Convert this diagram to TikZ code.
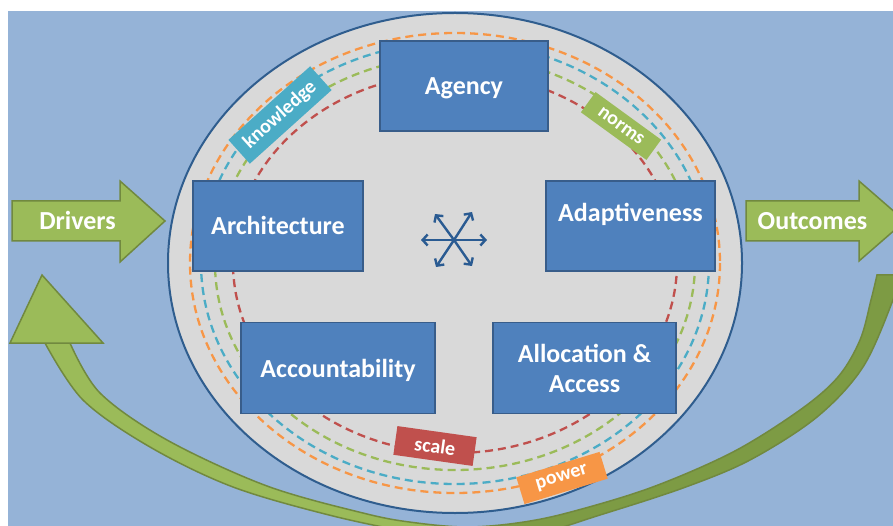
\documentclass[tikz,border=0pt]{standalone}
\usepackage{fontspec}
\setmainfont{Carlito}
\usetikzlibrary{arrows.meta}
\definecolor{bgblue}{HTML}{95B3D7}
\definecolor{ellgray}{HTML}{D9D9D9}
\definecolor{ellblue}{HTML}{2F5D8E}
\definecolor{boxblue}{HTML}{4F81BD}
\definecolor{boxline}{HTML}{385D8A}
\definecolor{ringorange}{HTML}{F79646}
\definecolor{ringcyan}{HTML}{4BACC6}
\definecolor{ringgreen}{HTML}{9BBB59}
\definecolor{ringred}{HTML}{C0504D}
\definecolor{glight}{HTML}{9BBB59}
\definecolor{gdark}{HTML}{7D9B44}
\definecolor{gline}{HTML}{71893F}
\definecolor{iconblue}{HTML}{2A5B92}
\begin{document}
\begin{tikzpicture}[x=1pt,y=-1pt,
  bigtext/.style={text=white,font=\bfseries\fontsize{26}{30}\selectfont,text height=22pt,text depth=4pt},
  blockbox/.style={draw=boxline,line width=1.8pt,fill=boxblue,inner sep=0pt},
  ring/.style={line width=2.3pt,dash pattern=on 8pt off 5pt},
  tag/.style={text=white,font=\bfseries\fontsize{20}{22}\selectfont,inner sep=0pt},
  gblock/.style={fill=glight,draw=gline,line width=1.5pt,line join=miter},
  band/.style={insert path={plot[smooth,tension=0.55] coordinates {(45,343) (83,400) (150,447) (233,487) (333,516) (420,534) (470,540) (533,535) (600,515) (683,488) (750,460) (817,417) (863,367) (893,300) (900,275)} -- (877,275) -- plot[smooth,tension=0.55] coordinates {(877,275) (871,300) (860,340) (838,377) (800,410) (733,452) (650,488) (567,513) (517,523) (467,527) (417,523) (367,514) (267,486) (167,440) (100,393) (70,343)} -- cycle}},
  spoke/.style={iconblue,line width=2.4pt,-{Straight Barb[length=5pt,width=11pt,line width=2.4pt]}}
]
\useasboundingbox (0,0) rectangle (893,526);
\fill[white] (0,0) rectangle (893,526);
\fill[bgblue] (8,11) rectangle (893,526);
\begin{scope}
  \clip (8,11) rectangle (893,526);
  \begin{scope}
    \clip (0,0) rectangle (445,600);
    \path[fill=glight,band];
  \end{scope}
  \begin{scope}
    \clip (445,0) rectangle (900,600);
    \path[fill=gdark,band];
  \end{scope}
  \path[draw=gline,line width=1.5pt,band];
  \filldraw[gblock] (746,201) -- (859,201) -- (859,181) -- (905,221) -- (859,261) -- (859,241) -- (746,241) -- cycle;
\end{scope}
\node[bigtext] (outcomes) at (812.5,221) {Outcomes};
\filldraw[gblock] (42,275) -- (103,343) -- (10,343) -- cycle;
\filldraw[gblock] (12,201) -- (120,201) -- (120,181) -- (165,221) -- (120,262) -- (120,241) -- (12,241) -- cycle;
\node[bigtext] (drivers) at (77.5,221) {Drivers};
% big ellipse
\draw[fill=ellgray,draw=ellblue,line width=2pt] (455,263) ellipse [x radius=287, y radius=250];
% rings
\draw[ring,ringorange] (455,263) ellipse [x radius=265, y radius=230];
\draw[ring,ringcyan] (455,263) ellipse [x radius=254, y radius=221];
\draw[ring,ringgreen] (455,263) ellipse [x radius=240, y radius=207];
\draw[ring,ringred] (455,263) ellipse [x radius=222, y radius=190];
% boxes
\node[blockbox,bigtext,minimum width=168pt,minimum height=90pt] (agency) at (464,86) {Agency};
\node[blockbox,bigtext,minimum width=170pt,minimum height=90pt] (architecture) at (278,226) {Architecture};
\node[blockbox,minimum width=169pt,minimum height=90pt] (adaptbox) at (630.5,226) {};
\node[bigtext] (adapt) at (630.5,213) {Adaptiveness};
\node[blockbox,bigtext,minimum width=194pt,minimum height=91pt] (account) at (338,368) {Accountability};
\node[blockbox,minimum width=183pt,minimum height=91pt] (alloc) at (584.5,368) {};
\node[bigtext,anchor=base] (alloc1) at (584.5,362) {Allocation \&};
\node[bigtext,anchor=base] (alloc2) at (584.5,392) {Access};
% tags
\node[tag,fill=ringcyan,rotate=42,minimum width=110pt,minimum height=32pt] (knowledge) at (280,115) {knowledge};
\node[tag,fill=ringgreen,rotate=-36,minimum width=81pt,minimum height=25pt] (norms) at (621,126) {norms};
\node[tag,fill=ringred,rotate=-8,minimum width=80pt,minimum height=29pt] (scale) at (435,446) {scale};
\node[tag,fill=ringorange,rotate=17,minimum width=87pt,minimum height=28pt] (power) at (562,478) {power};
% icon
\coordinate (hub) at (454,240);
\coordinate (sE) at (487,240);
\coordinate (sW) at (421,240);
\coordinate (sNE) at (472,212);
\coordinate (sNW) at (435,214);
\coordinate (sSE) at (472,266);
\coordinate (sSW) at (436,267);
\foreach \t in {sE,sW,sNE,sNW,sSE,sSW} \draw[spoke] (hub) -- (\t);
\end{tikzpicture}
\end{document}
